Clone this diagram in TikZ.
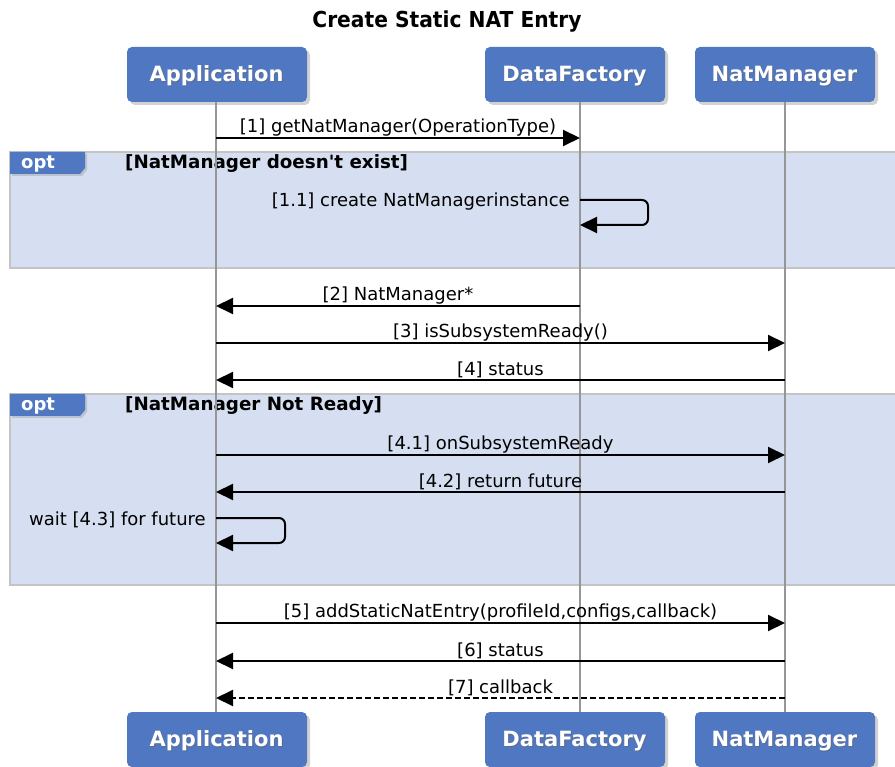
\documentclass[tikz,border=0pt]{standalone}
\usepackage{fontspec}
\setmainfont{DejaVu Sans}
\newfontfamily\condbold[FakeStretch=0.92]{DejaVu Sans Bold}
\newfontfamily\rawbold{DejaVu Sans Bold}
\usetikzlibrary{arrows.meta,shadows}
\definecolor{boxblue}{HTML}{4F77C2}
\definecolor{optbg}{HTML}{D6DFF1}
\definecolor{optborder}{HTML}{C4C4C4}
\definecolor{lifegray}{HTML}{969696}
\tikzset{
  actor/.style={draw=none, fill=boxblue, rounded corners=5pt, minimum width=180pt, minimum height=55pt,
    drop shadow={shadow xshift=3pt, shadow yshift=-3pt, opacity=0.35}, inner sep=0pt},
  lifeline/.style={draw=lifegray, line width=2pt},
  msg/.style={draw=black, line width=2pt, -{Triangle[length=17pt,width=16pt]}},
  reply/.style={msg, dashed, dash pattern=on 6pt off 3pt},
  lbl/.style={font=\fontsize{18}{21}\selectfont, inner sep=0pt, anchor=base},
  cond/.style={font=\fontsize{18.3}{21}\selectfont\rawbold, inner sep=0pt, anchor=base west},
  optframe/.style={fill=optbg, draw=optborder, line width=2pt},
  opttab/.style={fill=boxblue, draw=none, drop shadow={shadow xshift=2pt, shadow yshift=-2pt, opacity=0.3}},
  optlbl/.style={font=\fontsize{18}{21}\selectfont\bfseries, text=white, anchor=base west, inner sep=0pt},
}
\newcommand{\actorlabel}[1]{\tikz[baseline]{\node[text=black!60, opacity=0.6, inner sep=0pt, anchor=base, font=\fontsize{21}{24}\selectfont\bfseries] at (1pt,-1pt) {#1};\node[text=white, inner sep=0pt, anchor=base, font=\fontsize{21}{24}\selectfont\bfseries] at (0,0) {#1};}}
\begin{document}
\begin{tikzpicture}[x=1pt,y=-1pt]
\useasboundingbox (0,0) rectangle (895,767);
\fill[white] (0,0) rectangle (895,767);

% title
\node[font=\fontsize{22}{26}\selectfont\condbold, anchor=base] (title) at (447,28) {Create Static NAT Entry};

% opt frames
\draw[optframe] (10,152) rectangle (900,268);
\draw[optframe] (10,394) rectangle (900,585);
\path[opttab] (10,152) -- (85,152) -- (85,168) -- (80,174) -- (10,174) -- cycle;
\path[opttab] (10,394) -- (85,394) -- (85,410) -- (80,416) -- (10,416) -- cycle;
\node[optlbl] (opt1) at (21,169) {opt};
\node[optlbl] (opt2) at (21,411) {opt};
\node[cond] (c1) at (125,169) {[NatManager doesn't exist]};
\node[cond] (c2) at (125,411) {[NatManager Not Ready]};

% actors top
\node[actor] (appT) at (217,74.5) {};
\node[actor] (dfT) at (575,74.5) {};
\node[actor] (nmT) at (785,74.5) {};
% actors bottom
\node[actor] (appB) at (217,739.5) {};
\node[actor] (dfB) at (575,739.5) {};
\node[actor] (nmB) at (785,739.5) {};

\foreach \n/\t in {appT/Application,dfT/DataFactory,nmT/NatManager,appB/Application,dfB/DataFactory,nmB/NatManager}{
  \node[inner sep=0pt] at ([yshift=-2pt]\n.center) {\actorlabel{\t}};
}

% lifelines
\draw[lifeline] (216,102) -- (216,712);
\draw[lifeline] (580,102) -- (580,712);
\draw[lifeline] (785,102) -- (785,712);

% messages
\coordinate (a1) at (216,138); \coordinate (d1) at (580,138);
\draw[msg] (a1) -- (d1) node[lbl, midway, above=1pt] (m1) {[1] getNatManager(OperationType)};

\coordinate (d11) at (580,200); \coordinate (d11b) at (580,225);
\draw[msg, rounded corners=6pt] (d11) -- (648,200) -- (648,225) -- (d11b);
\node[lbl, anchor=base east] (m11) at (570,207) {[1.1] create NatManagerinstance};

\coordinate (d2) at (580,306); \coordinate (a2) at (216,306);
\draw[msg] (d2) -- (a2) node[lbl, midway, above=1pt] (m2) {[2] NatManager*};

\coordinate (a3) at (216,343); \coordinate (n3) at (785,343);
\draw[msg] (a3) -- (n3) node[lbl, midway, above=1pt] (m3) {[3] isSubsystemReady()};

\coordinate (n4) at (785,380); \coordinate (a4) at (216,380);
\draw[msg] (n4) -- (a4) node[lbl, midway, above=1pt] (m4) {[4] status};

\coordinate (a41) at (216,455); \coordinate (n41) at (785,455);
\draw[msg] (a41) -- (n41) node[lbl, midway, above=1pt] (m41) {[4.1] onSubsystemReady};

\coordinate (n42) at (785,492); \coordinate (a42) at (216,492);
\draw[msg] (n42) -- (a42) node[lbl, midway, above=1pt] (m42) {[4.2] return future};

\coordinate (a43) at (216,518); \coordinate (a43b) at (216,543);
\draw[msg, rounded corners=6pt] (a43) -- (285,518) -- (285,543) -- (a43b);
\node[lbl, anchor=base east] (m43) at (206,525) {wait [4.3] for future};

\coordinate (a5) at (216,623); \coordinate (n5) at (785,623);
\draw[msg] (a5) -- (n5) node[lbl, midway, above=1pt] (m5) {[5] addStaticNatEntry(profileId,configs,callback)};

\coordinate (n6) at (785,661); \coordinate (a6) at (216,661);
\draw[msg] (n6) -- (a6) node[lbl, midway, above=1pt] (m6) {[6] status};

\coordinate (n7) at (785,698); \coordinate (a7) at (216,698);
\draw[reply] (n7) -- (a7) node[lbl, midway, above=1pt] (m7) {[7] callback};
\end{tikzpicture}
\end{document}
